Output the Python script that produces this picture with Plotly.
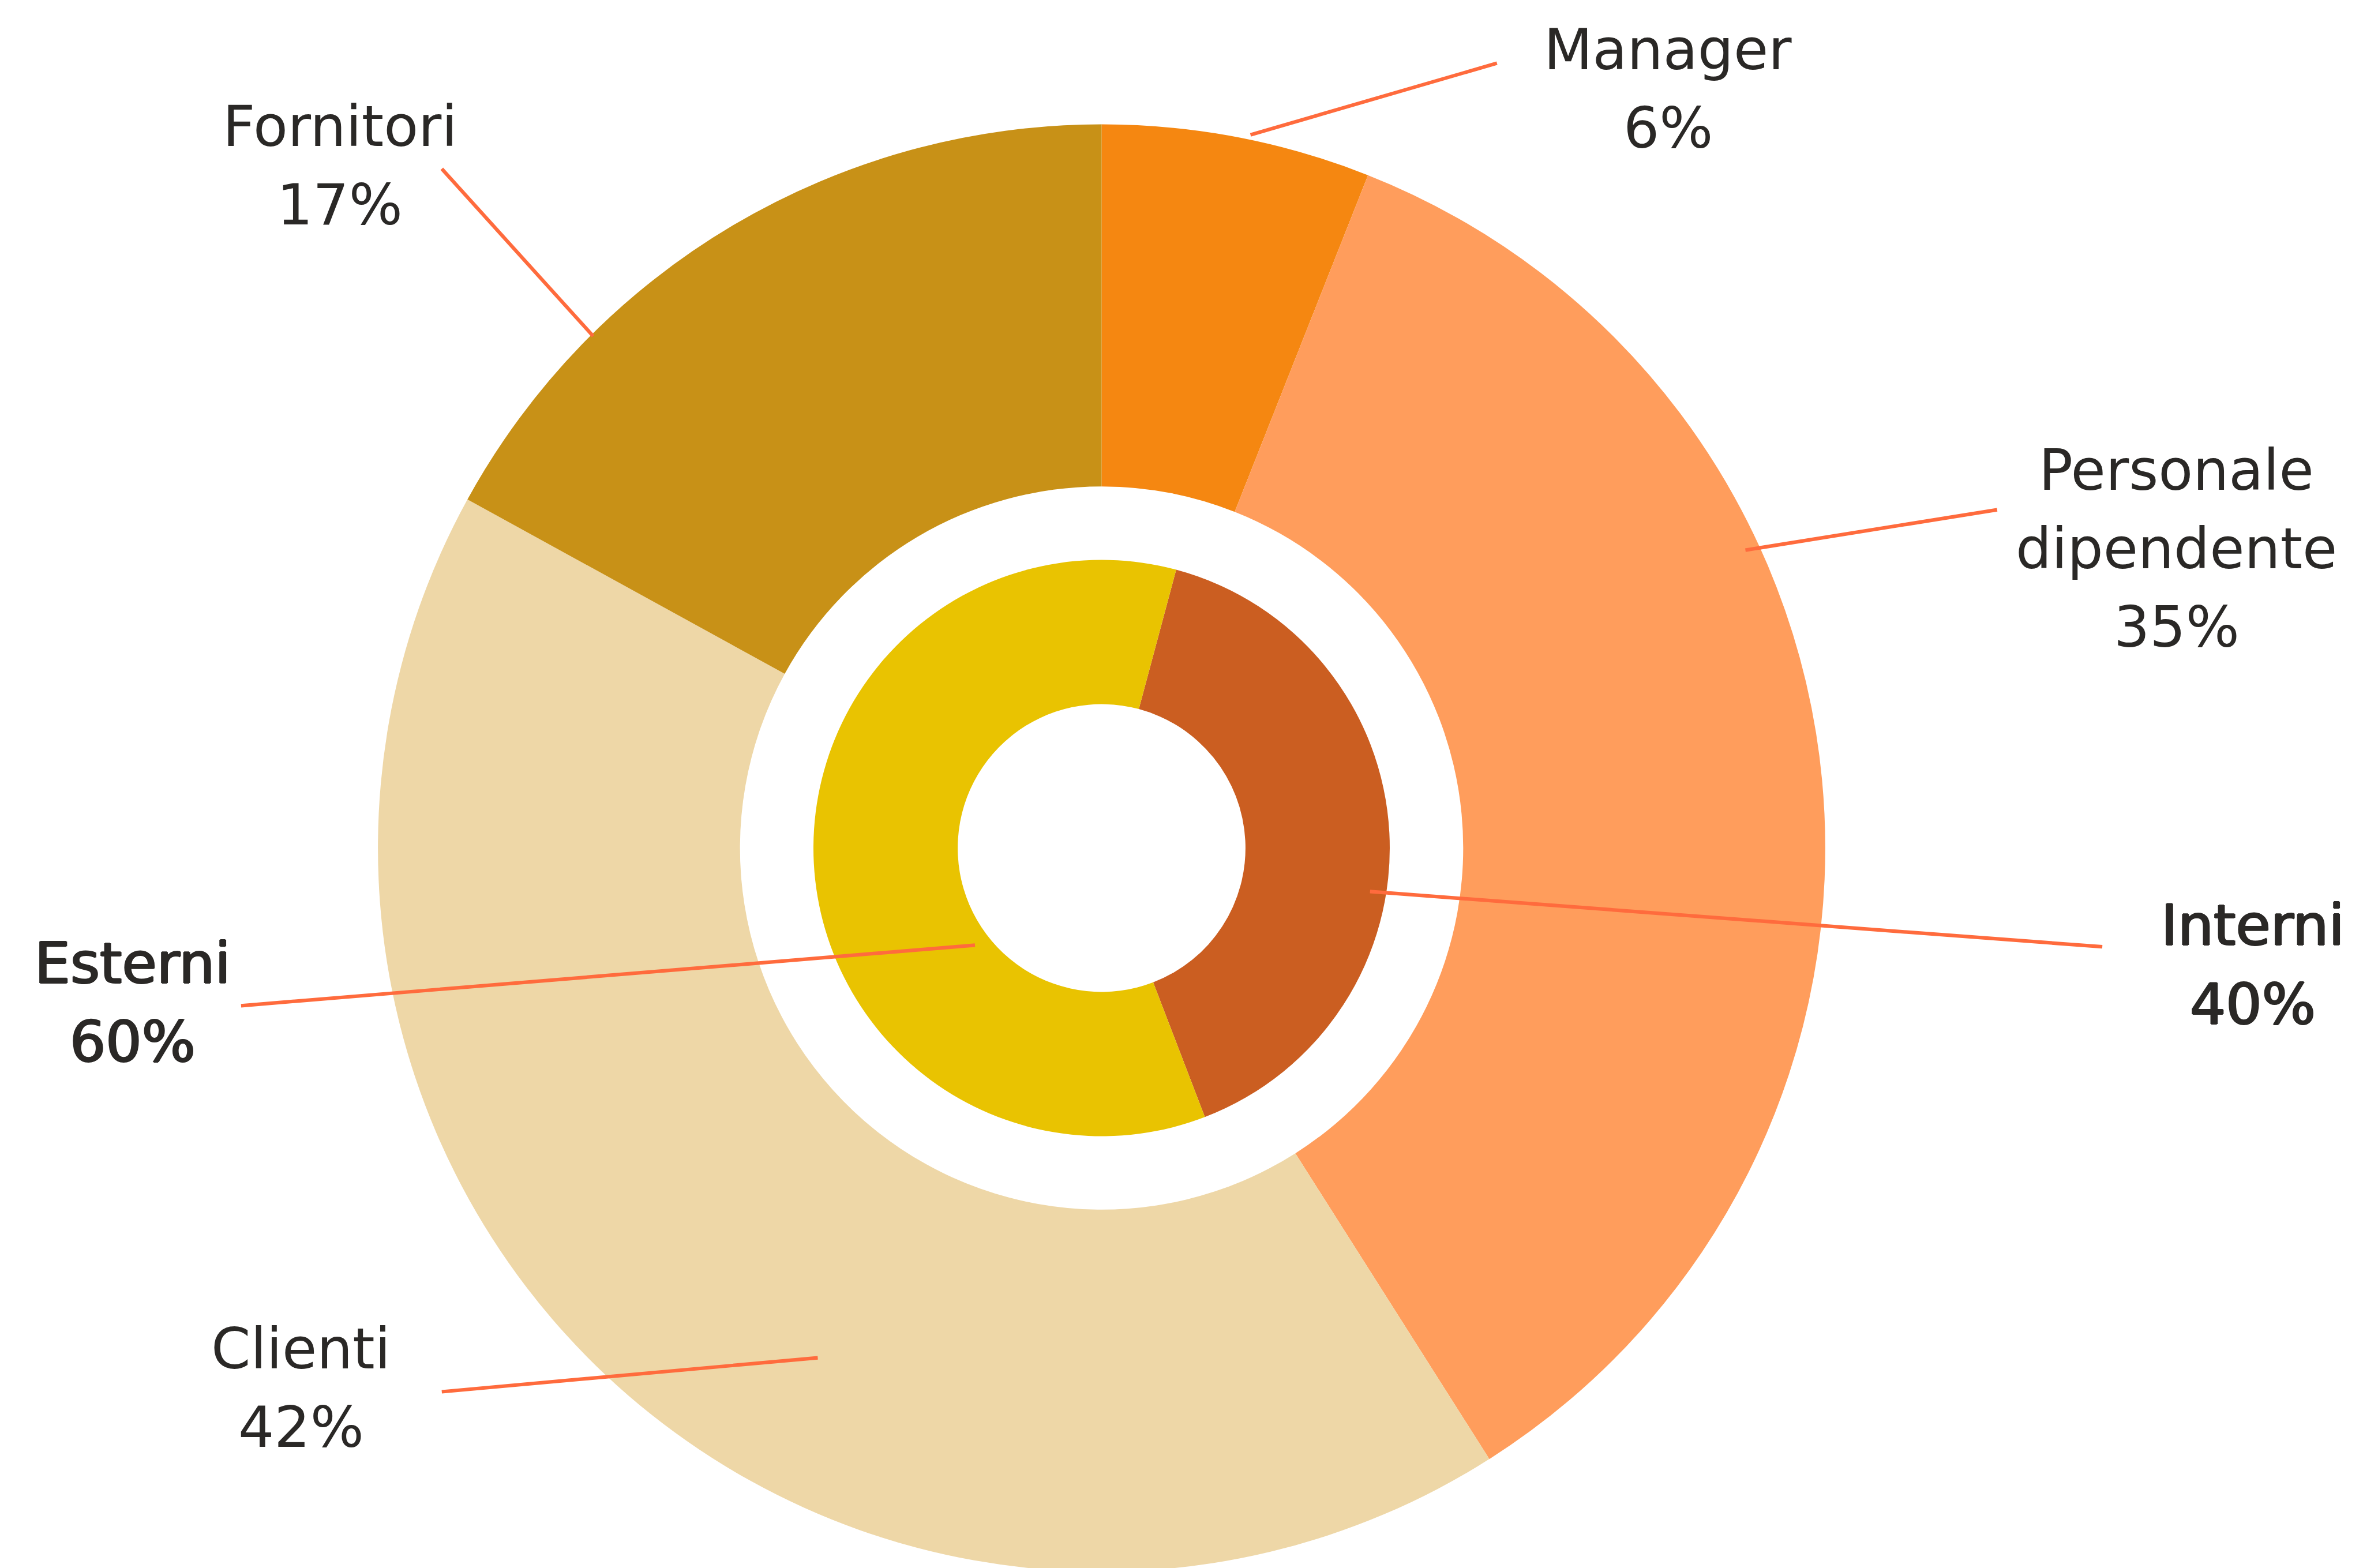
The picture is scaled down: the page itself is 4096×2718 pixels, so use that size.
import plotly.graph_objects as go

# ---- data ----
outer_labels = ["Manager", "Personale dipendente", "Clienti", "Fornitori"]
outer_values = [6, 35, 42, 17]
inner_labels = ["Interni", "Esterni"]
inner_values = [40, 60]

# ---- styles ----
outer_colors = ["#F58711", "#FF9D5C", "#EED7A7", "#C89117"]
inner_colors = ["#CB5E21", "#E9C301"]
TEXT_COLOR = "#2A2826"
LEADER_COLOR = "#FF6B3D"
FONT = "DejaVu Sans"
# slightly heavier (medium) look for the inner-ring labels
MEDIUM_SHADOW = ", ".join(f"{dx}px {dy}px 0px {TEXT_COLOR}"
                          for dx, dy in [(1.5, 0), (-1.5, 0), (0, 1), (0, -1)])

# ---- geometry (screen pixels in the output window) ----
W, H = 4096, 2718
PAGE_OFF = 8              # default body margin of the html page
CX, CY = 1909.5, 1470.0   # ring centre on screen
R_OUT = 1254.4            # outer ring outer radius
R_OUT_IN = 626.8          # outer ring inner radius
R_IN = 499.5              # inner ring outer radius
R_IN_IN = 249.4           # inner ring inner radius

def px(x):
    return (x - PAGE_OFF) / W

def py(y):
    return 1 - (y - PAGE_OFF) / H

def dom(r):
    return dict(x=[max(0.0, px(CX - r)), min(1.0, px(CX + r))],
                y=[max(0.0, py(CY + r)), min(1.0, py(CY - r))])

# label layout: text centre x, first baseline y, leader line endpoints (screen px)
FS = 98
LINE_H = 136.2
KC = 0.346  # baseline -> text box centre, in em
label_layout = {
    "Manager": dict(x=2891.1, y=119.7, medium=False,
                    lead=((2167.6, 233.8), (2594.8, 109.5))),
    "Fornitori": dict(x=589.1, y=253.1, medium=False,
                      lead=((765.8, 292.7), (1028.1, 582.6))),
    "Personale dipendente": dict(x=3772.9, y=848.7, medium=False,
                                 lead=((3025.5, 953.6), (3461.8, 883.6))),
    "Clienti": dict(x=521.9, y=2372.0, medium=False,
                    lead=((765.8, 2412.5), (1417.5, 2353.6))),
    "Interni": dict(x=3904.5, y=1638.4, medium=True,
                    lead=((2374.8, 1545.4), (3644.1, 1641.2))),
    "Esterni": dict(x=230.1, y=1703.8, medium=True,
                    lead=((417.9, 1743.3), (1690.0, 1638.4))),
}

fig = go.Figure()
fig.add_trace(go.Pie(
    labels=outer_labels, values=outer_values, sort=False, direction="clockwise",
    rotation=0, hole=R_OUT_IN / R_OUT, domain=dom(R_OUT),
    marker=dict(colors=outer_colors, line=dict(width=0)),
    textinfo="none", hoverinfo="label+percent", showlegend=False,
))
fig.add_trace(go.Pie(
    labels=inner_labels, values=inner_values, sort=False, direction="clockwise",
    rotation=15, hole=R_IN_IN / R_IN, domain=dom(R_IN),
    marker=dict(colors=inner_colors, line=dict(width=0)),
    textinfo="none", hoverinfo="label+percent", showlegend=False,
))

all_labels = outer_labels + inner_labels
all_values = outer_values + inner_values
total_outer = sum(outer_values)
total_inner = sum(inner_values)
annotations = []
shapes = []
for i, (lab, val) in enumerate(zip(all_labels, all_values)):
    lay = label_layout[lab]
    tot = total_outer if i < len(outer_labels) else total_inner
    lines = lab.split(" ") + [f"{round(100 * val / tot)}%"]
    font = dict(family=FONT, size=FS, color=TEXT_COLOR, weight=400)
    if lay["medium"]:
        font["shadow"] = MEDIUM_SHADOW
    for j, t in enumerate(lines):
        base = lay["y"] + j * LINE_H
        annotations.append(dict(
            x=px(lay["x"]), y=py(base - KC * FS), xref="paper", yref="paper",
            text=t, showarrow=False, xanchor="center", yanchor="middle",
            font=font,
        ))
    (x0, y0), (x1, y1) = lay["lead"]
    shapes.append(dict(type="line", xref="paper", yref="paper",
                       x0=px(x0), y0=py(y0), x1=px(x1), y1=py(y1),
                       line=dict(color=LEADER_COLOR, width=6.2)))

fig.update_layout(
    width=W, height=H,
    margin=dict(l=0, r=0, t=0, b=0),
    paper_bgcolor="white", plot_bgcolor="white",
    annotations=annotations, shapes=shapes,
    showlegend=False,
)

fig.write_html("out.html")
